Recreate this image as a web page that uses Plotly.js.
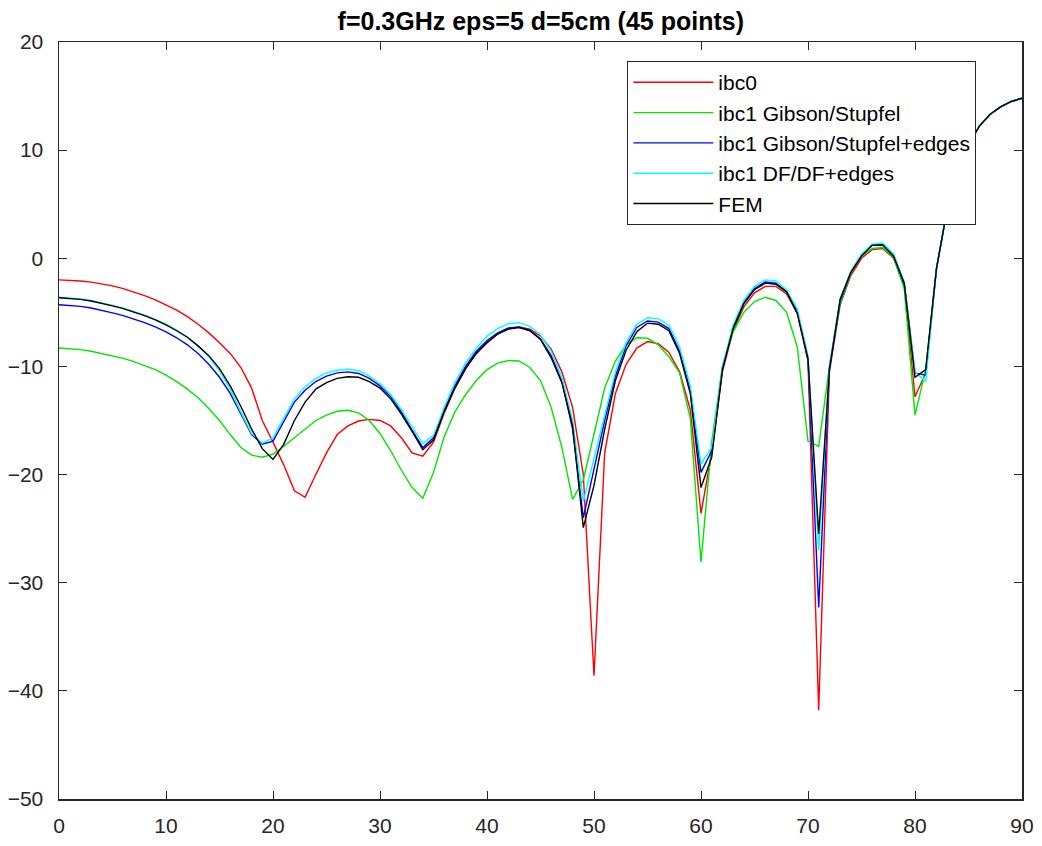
<!DOCTYPE html>
<html>
<head>
<meta charset="utf-8">
<script src="https://cdn.plot.ly/plotly-3.0.1.min.js"></script>
<style>html,body{margin:0;padding:0;background:#fff;}#chart{width:1042px;height:846px;}</style>
</head>
<body>
<div id="chart"></div>
<script>
// angle samples (degrees)
const angles = [];
for (let a = 0; a <= 90; a++) angles.push(a);

const ibc0 = [-2.0,-2.03,-2.1,-2.2,-2.35,-2.55,-2.8,-3.1,-3.45,-3.85,
  -4.3,-4.8,-5.4,-6.1,-6.9,-7.8,-8.8,-10.1,-12.0,-15.0,
  -17.0,-19.1,-21.5,-22.1,-20.0,-18.0,-16.3,-15.5,-15.05,-14.9,
  -15.0,-15.5,-16.6,-18.0,-18.3,-17.0,-14.3,-12.0,-10.2,-8.8,
  -7.8,-7.0,-6.5,-6.35,-6.55,-7.2,-8.4,-10.5,-13.8,-20.0,
  -38.6,-18.0,-12.5,-9.8,-8.3,-7.7,-7.9,-8.7,-10.5,-14.0,
  -23.6,-18.0,-10.5,-6.7,-4.5,-3.2,-2.6,-2.6,-3.3,-5.1,
  -9.5,-41.8,-10.5,-4.3,-1.6,0.0,0.8,0.9,0.0,-2.6,
  -12.8,-10.6,-1.0,4.5,8.0,10.5,12.2,13.3,14.0,14.5,14.8];

const ibc1GS = [-8.3,-8.35,-8.45,-8.6,-8.8,-9.0,-9.25,-9.55,-9.9,-10.3,
  -10.8,-11.4,-12.1,-12.9,-13.9,-15.0,-16.3,-17.5,-18.2,-18.4,
  -18.1,-17.4,-16.6,-15.8,-15.0,-14.5,-14.15,-14.05,-14.3,-15.0,
  -16.2,-17.8,-19.6,-21.2,-22.2,-19.8,-16.5,-14.2,-12.6,-11.3,
  -10.3,-9.7,-9.45,-9.5,-10.1,-11.3,-13.8,-17.5,-22.3,-20.5,
  -16.2,-12.0,-9.5,-8.0,-7.35,-7.4,-8.0,-9.1,-10.6,-14.8,
  -28.1,-17.0,-10.0,-6.8,-5.0,-4.0,-3.6,-3.9,-5.0,-8.2,
  -16.9,-17.4,-10.0,-4.3,-1.4,0.2,0.9,1.0,0.1,-2.8,
  -14.5,-10.3,-1.0,4.5,8.0,10.5,12.2,13.3,14.0,14.5,14.8];

const ibc1GSedges = [-4.3,-4.35,-4.45,-4.6,-4.8,-5.05,-5.3,-5.6,-5.95,-6.35,
  -6.8,-7.35,-8.0,-8.8,-9.8,-11.0,-12.5,-14.4,-16.3,-17.2,
  -16.9,-15.1,-13.3,-12.2,-11.4,-10.9,-10.6,-10.5,-10.65,-11.1,
  -11.8,-12.8,-14.2,-15.9,-17.5,-16.6,-14.0,-11.8,-10.0,-8.6,
  -7.6,-6.9,-6.45,-6.35,-6.65,-7.45,-9.0,-11.4,-15.8,-24.0,
  -19.5,-15.0,-10.9,-8.1,-6.4,-5.8,-5.9,-6.5,-8.6,-12.2,
  -19.8,-17.8,-10.2,-6.4,-4.1,-2.8,-2.2,-2.3,-3.1,-4.9,
  -9.3,-32.3,-10.2,-4.0,-1.3,0.3,1.2,1.3,0.3,-2.4,
  -10.6,-10.8,-1.0,4.5,8.0,10.5,12.2,13.3,14.0,14.5,14.8];

const ibc1DF = [-3.6,-3.65,-3.75,-3.9,-4.1,-4.35,-4.6,-4.9,-5.25,-5.65,
  -6.1,-6.65,-7.3,-8.1,-9.1,-10.4,-12.1,-14.2,-16.2,-17.1,
  -16.6,-14.8,-13.0,-11.9,-11.1,-10.6,-10.35,-10.25,-10.4,-10.9,
  -11.6,-12.6,-14.0,-15.6,-17.1,-16.4,-13.8,-11.5,-9.7,-8.3,
  -7.2,-6.5,-6.05,-5.95,-6.3,-7.1,-8.6,-11.0,-15.0,-22.5,
  -18.5,-14.6,-10.5,-7.8,-6.1,-5.5,-5.6,-6.2,-8.2,-11.8,
  -19.0,-17.5,-10.0,-6.2,-3.9,-2.6,-2.0,-2.1,-2.9,-4.7,
  -9.0,-27.0,-10.0,-3.8,-1.2,0.4,1.3,1.4,0.4,-2.2,
  -10.5,-11.4,-1.0,4.5,8.0,10.5,12.2,13.3,14.0,14.5,14.8];

const fem = [-3.65,-3.7,-3.8,-3.95,-4.15,-4.4,-4.65,-4.95,-5.3,-5.7,
  -6.15,-6.7,-7.3,-8.1,-9.0,-10.2,-11.8,-13.7,-15.8,-17.6,
  -18.6,-17.2,-15.0,-13.3,-12.1,-11.5,-11.1,-10.95,-11.0,-11.4,
  -12.0,-13.0,-14.4,-16.0,-17.7,-16.8,-14.2,-12.0,-10.2,-8.8,
  -7.8,-7.0,-6.55,-6.4,-6.7,-7.5,-9.2,-11.5,-15.5,-24.9,
  -21.0,-15.8,-11.3,-8.5,-6.8,-6.0,-6.1,-6.7,-8.8,-12.5,
  -21.2,-18.4,-10.3,-6.5,-4.2,-2.9,-2.3,-2.4,-3.1,-5.1,
  -9.3,-25.5,-10.3,-3.8,-1.3,0.2,1.2,1.2,0.2,-2.3,
  -11.0,-10.3,-1.0,4.5,8.0,10.5,12.2,13.3,14.0,14.5,14.8];

const seriesNames = ['ibc0','ibc1 Gibson/Stupfel','ibc1 Gibson/Stupfel+edges','ibc1 DF/DF+edges','FEM'];
const seriesData = [ibc0, ibc1GS, ibc1GSedges, ibc1DF, fem];
const seriesColors = ['#ff0000','#00e600','#0000ff','#00ffff','#000000'];

const xTicks = [0,10,20,30,40,50,60,70,80,90];
const yTicks = [-50,-40,-30,-20,-10,0,10,20];

const traces = seriesNames.map((n, i) => ({
  x: angles, y: seriesData[i], name: n, type: 'scatter', mode: 'lines',
  line: {color: seriesColors[i], width: 1.4}
}));

const FONT = 'Liberation Sans, Arial, sans-serif';
const axisCommon = {
  showgrid: false, zeroline: false, showline: true, linecolor: '#262626', linewidth: 1.5,
  mirror: 'allticks', ticks: 'inside', ticklen: 8, tickcolor: '#262626', tickwidth: 1,
  tickfont: {family: FONT, size: 21, color: '#262626'}
};

const layout = {
  width: 1042, height: 846,
  margin: {l: 59, r: 20, t: 42, b: 47},
  paper_bgcolor: '#ffffff', plot_bgcolor: '#ffffff',
  title: {text: '<b>f=0.3GHz eps=5 d=5cm (45 points)</b>', x: 0.519, xanchor: 'center',
    y: 0.975, yref: 'container', yanchor: 'middle',
    font: {family: FONT, size: 25, color: '#000'}},
  xaxis: Object.assign({}, axisCommon, {range: [0, 90], tickvals: xTicks, ticklabelstandoff: 7}),
  yaxis: Object.assign({}, axisCommon, {range: [-50, 20], tickvals: yTicks, ticklabelstandoff: 10}),
  showlegend: true,
  legend: {x: 0.59, y: 0.975, xanchor: 'left', yanchor: 'top', bgcolor: '#ffffff',
    bordercolor: '#262626', borderwidth: 1.2, itemwidth: 80, tracegroupgap: 0,
    font: {family: FONT, size: 21, color: '#000'}}
};

Plotly.newPlot('chart', traces, layout, {displayModeBar: false, staticPlot: true});
</script>
</body>
</html>
